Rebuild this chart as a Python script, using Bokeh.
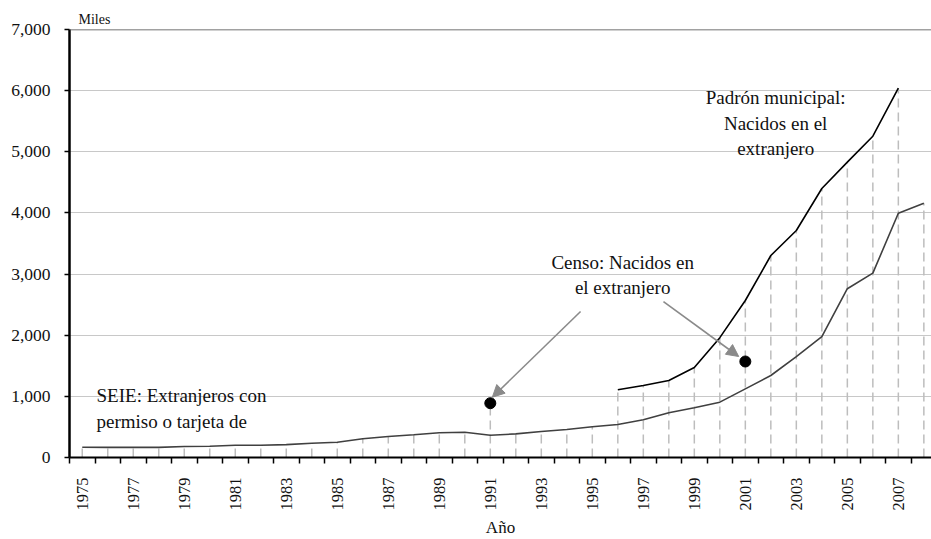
from bokeh.plotting import figure
from bokeh.models import (FixedTicker, NumeralTickFormatter, Span, Arrow, NormalHead)
from bokeh.core.properties import value
from bokeh.embed import file_html
from bokeh.resources import INLINE
import math

# ---------------- data ----------------
years = list(range(1975, 2009))
seie = [168, 165, 165, 165, 180, 185, 200, 200, 210, 234, 250, 306, 344, 371, 404, 414,
        365, 386, 425, 458, 502, 540, 616, 731, 813, 905, 1123, 1341, 1650, 1975, 2760,
        3015, 3995, 4160]
padron_years = list(range(1996, 2008))
padron = [1107, 1178, 1260, 1472, 1960, 2568, 3304, 3713, 4400, 4830, 5255, 6040]
censo_years = [1991, 2001]
censo = [888, 1570]
label_years = list(range(1975, 2008, 2))
y_ticks = [0, 1000, 2000, 3000, 4000, 5000, 6000, 7000]

annot_text = ["SEIE: Extranjeros con\npermiso o tarjeta de",
              "Censo: Nacidos en\nel extranjero",
              "Padrón municipal:\nNacidos en el\nextranjero"]
annot_x = [1975.56, 1996.19, 2002.19]
annot_y = [1178, 3369, 6052]
annot_align = ["left", "center", "center"]

# arrows (start x, start y, end x, end y) in data units
arrows = [(1994.54, 2388, 1991.08, 986), (1997.79, 2551, 2000.74, 1652)]

FONT = "Liberation Serif"

# drop lines: from highest value in each category to the axis
top = {y: v for y, v in zip(years, seie)}
for y, v in zip(padron_years, padron):
    top[y] = max(top[y], v)
for y, v in zip(censo_years, censo):
    top[y] = max(top[y], v)
drop_x = years
drop_top = [top[y] for y in years]

p = figure(width=931, height=539, output_backend="svg", toolbar_location=None,
           x_range=(1974.5, 2008.3), y_range=(0, 7000),
           min_border_left=69, min_border_right=0, min_border_top=29, min_border_bottom=82,
           title="Miles")
p.outline_line_color = None
p.background_fill_color = "white"
p.border_fill_color = "white"

p.title.text_font = FONT
p.title.text_font_size = "14px"
p.title.text_font_style = "normal"
p.title.text_color = "#111111"
p.title.align = "left"
p.title.offset = 9
p.title.standoff = 5

# grid
p.xgrid.grid_line_color = None
p.ygrid.grid_line_color = "#c8c8c8"
p.ygrid.grid_line_width = 1
p.ygrid.ticker = FixedTicker(ticks=y_ticks)

# drop lines
p.segment(x0=drop_x, y0=[0] * len(drop_x), x1=drop_x, y1=drop_top,
          line_color="#bdbdbd", line_width=1.5, line_dash="9 5")

# top line
p.add_layout(Span(location=7000, dimension="width", line_color="#444444", line_width=1.5))

# series
p.line(years, seie, line_color="#404040", line_width=1.6)
p.line(padron_years, padron, line_color="#000000", line_width=1.6)
p.scatter(censo_years, censo, size=11, color="black")

# arrows
for xs, ys, xe, ye in arrows:
    p.add_layout(Arrow(x_start=xs, y_start=ys, x_end=xe, y_end=ye,
                       line_color="#8a8a8a", line_width=1.6,
                       end=NormalHead(size=12, fill_color="#8a8a8a", line_color="#8a8a8a")))

# annotation texts
for t, x, y, a in zip(annot_text, annot_x, annot_y, annot_align):
    p.text(x=[x], y=[y], text=[t], text_font=value(FONT), text_font_size="19px",
           text_align=a, text_baseline="top", text_line_height=1.2, text_color="#111111")

# axes
xa = p.xaxis[0]
xa.ticker = FixedTicker(ticks=label_years, minor_ticks=[y - 0.5 for y in years] + [2008.5])
xa.major_label_orientation = math.pi / 2
xa.major_label_text_font = FONT
xa.major_label_text_font_size = "16.5px"
xa.major_label_text_color = "#111111"
xa.major_tick_line_color = None
xa.major_tick_out = 0
xa.major_tick_in = 0
xa.minor_tick_line_color = "black"
xa.minor_tick_line_width = 1.5
xa.minor_tick_out = 6
xa.minor_tick_in = 0
xa.major_label_standoff = 14
xa.axis_line_color = "black"
xa.axis_line_width = 2
xa.axis_label = "Año"
xa.axis_label_text_font = FONT
xa.axis_label_text_font_size = "17px"
xa.axis_label_text_font_style = "normal"
xa.axis_label_text_color = "#111111"
xa.axis_label_standoff = 4

ya = p.yaxis[0]
ya.ticker = FixedTicker(ticks=y_ticks)
ya.formatter = NumeralTickFormatter(format="0,0")
ya.major_label_text_font = FONT
ya.major_label_text_font_size = "17.5px"
ya.major_label_text_color = "#111111"
ya.major_tick_line_color = "black"
ya.major_tick_line_width = 1.5
ya.major_tick_out = 5
ya.major_tick_in = 0
ya.minor_tick_line_color = None
ya.axis_line_color = "black"
ya.axis_line_width = 2.5
ya.major_label_standoff = 14

open("out.html", "w").write(file_html(p, INLINE))
